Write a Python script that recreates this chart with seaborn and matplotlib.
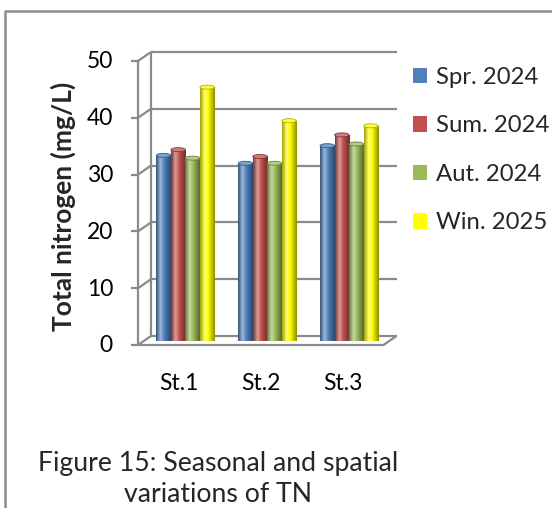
import numpy as np
import pandas as pd
import matplotlib
matplotlib.use("Agg")
import matplotlib.pyplot as plt
import matplotlib.colors as mcolors
from matplotlib.patches import Ellipse, Patch
from matplotlib.lines import Line2D
from matplotlib.transforms import ScaledTranslation
import seaborn as sns

# ---- data ----
stations = ["St.1", "St.2", "St.3"]
seasons = ["Spr. 2024", "Sum. 2024", "Aut. 2024", "Win. 2025"]
spr_2024 = [32.6, 31.2, 34.3]
sum_2024 = [33.6, 32.4, 36.2]
aut_2024 = [32.1, 31.2, 34.6]
win_2025 = [44.6, 38.7, 37.8]
y_ticks = [0, 10, 20, 30, 40, 50]
colors = ["#4F81BD", "#C0504D", "#9BBB59", "#FFFF00"]

df = pd.DataFrame({
    "station": stations * 4,
    "season": np.repeat(seasons, 3),
    "tn": spr_2024 + sum_2024 + aut_2024 + win_2025,
})

sns.set_theme(style="white")
plt.rcParams["font.family"] = ["Lato", "DejaVu Sans"]

W, H = 552, 508
DPI = 100
fig = plt.figure(figsize=(W / DPI, H / DPI), dpi=DPI)
fig.patch.set_facecolor("white")

# plot area sits on the mid-depth plane of the 3-D box
ax = fig.add_axes([144.5 / W, 1 - 340.5 / H, 245.5 / W, 284.0 / H])
sns.barplot(data=df, x="station", y="tn", hue="season", hue_order=seasons,
            palette=colors, width=0.71, saturation=1, legend=False, ax=ax,
            edgecolor="none", linewidth=0, errorbar=None)
ax.set_xlim(-0.5, 2.5)
ax.set_ylim(0, 50)
ax.axis("off")

DX, DY = 6.5, 4.5  # half of the box depth, in pixels
def px_offset(dx, dy):
    return ScaledTranslation(dx / DPI, dy / DPI, fig.dpi_scale_trans)

front = px_offset(-DX, -DY)
back = px_offset(DX, DY)
ytrans = ax.get_yaxis_transform()
grid_kw = dict(color="#8a8a8a", lw=1.6, solid_capstyle="butt", clip_on=False)

# back wall gridlines
for v in y_ticks:
    ax.plot([0, 1], [v, v], transform=ytrans + back, **grid_kw)

# left wall edge, slanted links and tick marks
ax.plot([0, 0], [0, 50], transform=ytrans + back, **grid_kw)
to_disp = ytrans.transform
for v in y_ticks:
    x0, y0 = to_disp((0, v))
    fig.add_artist(Line2D([x0 - DX, x0 + DX], [y0 - DY, y0 + DY],
                          transform=None, **grid_kw))
    fig.add_artist(Line2D([x0 - DX - 7, x0 - DX], [y0 - DY, y0 - DY],
                          transform=None, **grid_kw))

# front vertical axis
ax.plot([0, 0], [0, 50], transform=ytrans + front, **grid_kw)
# floor front edge and right slant
ax.plot([0, 1], [0, 0], transform=ytrans + front, **grid_kw)
x1, y1 = to_disp((1, 0))
fig.add_artist(Line2D([x1 - DX, x1 + DX], [y1 - DY, y1 + DY],
                      transform=None, **grid_kw))

# y tick labels
for v in y_ticks:
    ax.text(0, v, str(v), transform=ytrans + px_offset(-DX - 25, -DY - 1),
            ha="right", va="center", fontsize=16.5, color="black")

# category labels on the front plane
xtrans = ax.get_xaxis_transform()
for i, s in enumerate(stations):
    ax.text(i, 0, s, transform=xtrans + px_offset(-DX, -42.5),
            ha="center", va="center", fontsize=16.5, color="black")

# cylinder shading for each bar
ell_h = 4.0 / (284.0 / 50)
for patch in list(ax.patches):
    h = patch.get_height()
    if not np.isfinite(h) or h <= 0:
        continue
    x0 = patch.get_x()
    w = patch.get_width()
    base = np.array(mcolors.to_rgb(patch.get_facecolor()))
    dark = base * 0.62
    light = base + (1 - base) * 0.45
    cmap = mcolors.LinearSegmentedColormap.from_list(
        "cyl", [(0, dark), (0.3, light), (0.55, base), (1, dark * 0.9)])
    grad = np.linspace(0, 1, 64).reshape(1, -1)
    ax.imshow(grad, extent=[x0, x0 + w, 0, h], aspect="auto", cmap=cmap,
              zorder=3, interpolation="bicubic")
    patch.set_facecolor("none")
    ax.add_patch(Ellipse((x0 + w / 2, 0), w, ell_h, facecolor=tuple(base * 0.85),
                         edgecolor="none", zorder=2.9))
    top = base + (1 - base) * 0.25
    ax.add_patch(Ellipse((x0 + w / 2, h), w, ell_h, facecolor=tuple(top),
                         edgecolor=tuple(base * 0.7), lw=0.6, zorder=4))
ax.set_xlim(-0.5, 2.5)
ax.set_ylim(0, 50)

# axis title
fig.text(63 / W, 1 - 206 / H, "Total nitrogen (mg/L)", rotation=90,
         ha="center", va="center", fontsize=19, fontweight="bold")

# legend
handles = [Patch(facecolor=c, edgecolor="none") for c in colors]
fig.legend(handles, seasons, loc="upper left",
           bbox_to_anchor=(413 / W, 1 - 67 / H), frameon=False,
           fontsize=17.2, handlelength=0.6, handleheight=0.6,
           handletextpad=0.35, labelspacing=1.15, borderaxespad=0,
           borderpad=0)

# caption
fig.text(218 / W, 1 - 463 / H, "Figure 15: Seasonal and spatial",
         ha="center", va="center", fontsize=19.2)
fig.text(218 / W, 1 - 494 / H, "variations of TN",
         ha="center", va="center", fontsize=19.2)

# outer frame (left and top edges visible)
fig.add_artist(Line2D([5 / W, 5 / W, 1.0], [0, 1 - 11 / H, 1 - 11 / H],
                      transform=fig.transFigure, color="#8c8c8c", lw=1.8))

fig.savefig("out.png", dpi=DPI, facecolor="white")
